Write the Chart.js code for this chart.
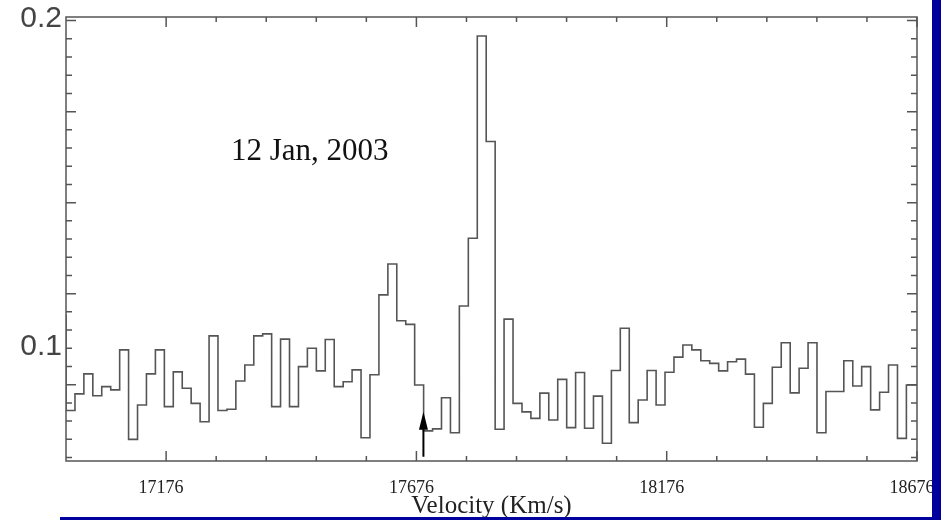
<!DOCTYPE html>
<html><head><meta charset="utf-8">
<script src="https://cdn.jsdelivr.net/npm/chart.js@4.4.1/dist/chart.umd.min.js"></script>
<style>
html,body{margin:0;padding:0;background:#fff;}
#wrap{position:relative;width:941px;height:520px;overflow:hidden;background:#fff;}
canvas{position:absolute;left:0;top:0;}
.blue{position:absolute;background:#00009c;}
</style></head><body>
<div id="wrap">
<canvas id="c" width="941" height="520"></canvas>
<div class="blue" style="left:932px;top:0;width:9px;height:520px"></div>
<div class="blue" style="left:60px;top:517px;width:881px;height:3px"></div>
</div>
<script>
// Left edges of the velocity bins (km/s), last entry closes the final bin
const velocityEdges = [16976,16993.9,17011.7,17029.6,17047.4,17065.3,17083.2,17101.0,17118.9,17136.7,
 17154.6,17172.5,17190.3,17208.2,17226.0,17243.9,17261.8,17279.6,17297.5,17315.3,
 17333.2,17351.1,17368.9,17386.8,17404.6,17422.5,17440.4,17458.2,17476.1,17493.9,
 17511.8,17529.7,17547.5,17565.4,17583.2,17601.1,17619.0,17636.8,17654.7,17672.5,
 17690.4,17708.3,17726.1,17744.0,17761.8,17779.7,17797.6,17815.4,17833.3,17851.1,
 17869.0,17886.9,17904.7,17922.6,17940.4,17958.3,17976.2,17994.0,18011.9,18029.7,
 18047.6,18065.5,18083.3,18101.2,18119.0,18136.9,18154.8,18172.6,18190.5,18208.3,
 18226.2,18244.1,18261.9,18279.8,18297.6,18315.5,18333.4,18351.2,18369.1,18386.9,
 18404.8,18422.7,18440.5,18458.4,18476.2,18494.1,18512.0,18529.8,18547.7,18565.5,
 18583.4,18601.3,18619.1,18637.0,18654.8,18672.7,18690.6];
// Flux in each bin
const flux = [0.1102,0.0810,0.0861,0.0922,0.0855,0.0883,0.0873,0.0995,0.0722,0.0827,
 0.0922,0.0995,0.0822,0.0928,0.0878,0.0832,0.0776,0.1038,0.0810,0.0814,
 0.0900,0.0949,0.1038,0.1044,0.0822,0.1028,0.0822,0.0944,0.1000,0.0931,
 0.1027,0.0883,0.0898,0.0934,0.0727,0.0919,0.1163,0.1257,0.1084,0.1073,
 0.0888,0.0748,0.0754,0.0849,0.0742,0.1129,0.1336,0.1953,0.1631,0.0753,
 0.1089,0.0832,0.0806,0.0786,0.0863,0.0781,0.0905,0.0758,0.0926,0.0756,
 0.0854,0.0710,0.0932,0.1061,0.0773,0.0842,0.0932,0.0827,0.0927,0.0973,
 0.1010,0.0995,0.0962,0.0954,0.0931,0.0959,0.0967,0.0921,0.0759,0.0832,
 0.0942,0.1017,0.0864,0.0939,0.1017,0.0742,0.0868,0.0868,0.0962,0.0885,
 0.0944,0.0812,0.0866,0.0949,0.0725,0.0888];
const xTickValues = [17176, 17676, 18176, 18676];
const xTickLabels = ['17176', '17676', '18176', '18676'];
const xMinorStep = 100;
const yTickValues = [0.1, 0.2];
const yTickLabels = ['0.1', '0.2'];
const yMinorStep = 1 / 180;
const dateLabel = '12 Jan, 2003';
const dateLabelPos = {x: 17463, y: 0.1599};
const xTitle = 'Velocity (Km/s)';
const arrowVelocity = 17690;
const arrowTail = 0.0669;
const arrowTip = 0.0806;

const points = velocityEdges.map((v, i) => ({x: v, y: flux[Math.min(i, flux.length - 1)]}));

const decor = {
  id: 'decor',
  afterDraw(chart) {
    const {ctx, chartArea: a, scales: {x, y}} = chart;
    ctx.save();
    ctx.strokeStyle = '#555';
    ctx.lineWidth = 1.5;
    ctx.strokeRect(a.left, a.top, a.right - a.left, a.bottom - a.top);
    ctx.beginPath();
    for (let v = xTickValues[0]; v <= x.max + 0.01; v += xMinorStep) {
      const px = x.getPixelForValue(v);
      const major = xTickValues.some(t => Math.abs(t - v) < 0.5);
      const len = major ? 10 : 5;
      ctx.moveTo(px, a.bottom); ctx.lineTo(px, a.bottom - len);
      ctx.moveTo(px, a.top); ctx.lineTo(px, a.top + len);
    }
    let k = 0;
    for (let v = yTickValues[1]; v >= y.min; v -= yMinorStep, k++) {
      const py = y.getPixelForValue(v);
      const len = (k % 5 === 0) ? 10 : 6;
      ctx.moveTo(a.left, py); ctx.lineTo(a.left + len, py);
      ctx.moveTo(a.right, py); ctx.lineTo(a.right - len, py);
    }
    ctx.stroke();
    // arrow
    const ax = x.getPixelForValue(arrowVelocity);
    const ay0 = y.getPixelForValue(arrowTail);
    const ay1 = y.getPixelForValue(arrowTip);
    ctx.strokeStyle = '#000';
    ctx.fillStyle = '#000';
    ctx.lineWidth = 2;
    ctx.beginPath(); ctx.moveTo(ax, ay0); ctx.lineTo(ax, ay1 + 8); ctx.stroke();
    ctx.beginPath();
    ctx.moveTo(ax, ay1); ctx.lineTo(ax - 4.5, ay1 + 18); ctx.lineTo(ax + 4.5, ay1 + 18); ctx.closePath();
    ctx.fill();
    // date label
    ctx.font = '31px "Liberation Serif"';
    ctx.fillStyle = '#111';
    ctx.textAlign = 'center';
    ctx.textBaseline = 'middle';
    ctx.fillText(dateLabel, x.getPixelForValue(dateLabelPos.x), y.getPixelForValue(dateLabelPos.y));
    ctx.restore();
  }
};

new Chart(document.getElementById('c'), {
  type: 'line',
  data: {
    datasets: [{
      data: points,
      stepped: 'after',
      borderColor: '#555',
      borderWidth: 1.6,
      pointRadius: 0,
      fill: false,
      clip: 0
    }]
  },
  options: {
    responsive: false,
    animation: false,
    devicePixelRatio: 1,
    layout: {padding: {left: 0, top: 17, right: 24, bottom: 0}},
    plugins: {legend: {display: false}, tooltip: {enabled: false}},
    scales: {
      x: {
        type: 'linear', min: 16976, max: 18676,
        afterBuildTicks: s => { s.ticks = xTickValues.map(v => ({value: v})); },
        afterFit: s => { s.height = 59; s.paddingLeft = 0; s.paddingRight = 0; },
        grid: {display: false, drawTicks: false},
        border: {display: false},
        ticks: {
          autoSkip: false, maxRotation: 0, padding: 18, labelOffset: -5,
          color: '#222', font: {family: 'Liberation Serif', size: 18, lineHeight: 1},
          callback: (v, i) => xTickLabels[i]
        },
        title: {
          display: true, text: xTitle, color: '#222',
          font: {family: 'Liberation Serif', size: 25, lineHeight: 1},
          padding: {top: 0, bottom: 1}
        }
      },
      y: {
        type: 'linear', min: 0.0656, max: 0.2011,
        afterBuildTicks: s => { s.ticks = yTickValues.map(v => ({value: v})); },
        afterFit: s => { s.width = 66; s.paddingTop = 0; s.paddingBottom = 0; },
        grid: {display: false, drawTicks: false},
        border: {display: false},
        ticks: {
          autoSkip: false, padding: 4, labelOffset: -2,
          color: '#444', font: {family: 'Liberation Sans', size: 30, lineHeight: 1},
          callback: (v, i) => yTickLabels[i]
        }
      }
    }
  },
  plugins: [decor]
});
</script>
</body></html>
